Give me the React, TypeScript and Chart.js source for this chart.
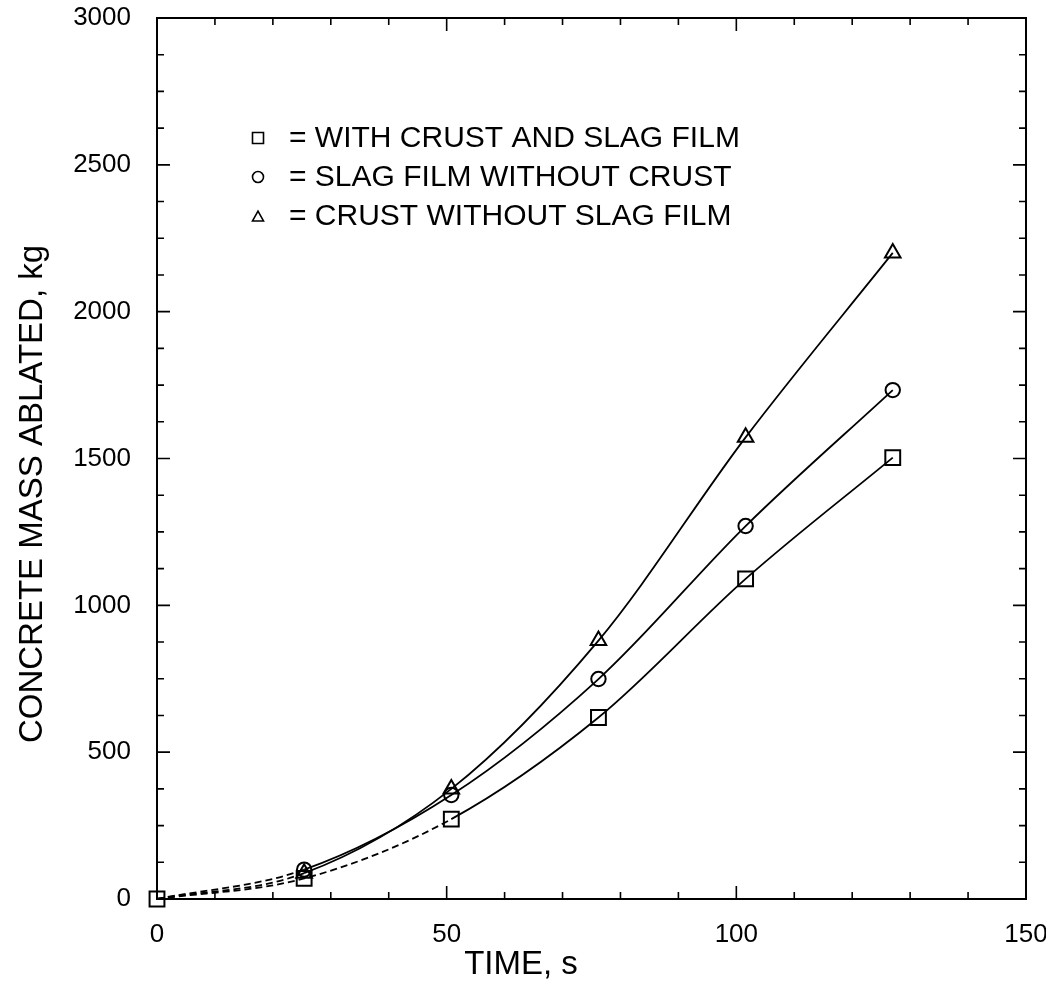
import React, { useEffect, useRef } from "react";
import { Chart, registerables } from "chart.js";

Chart.register(...registerables);

// ---- data ----
const TIME_S = [0, 25.4, 50.8, 76.2, 101.6, 127];
const WITH_CRUST_AND_SLAG = [0, 70, 272, 618, 1090, 1503];
const SLAG_NO_CRUST = [0, 100, 354, 749, 1270, 1733];
const CRUST_NO_SLAG = [0, 88, 375, 880, 1572, 2200];
const SERIES_LABELS = [
  "WITH CRUST AND SLAG FILM",
  "SLAG FILM WITHOUT CRUST",
  "CRUST WITHOUT SLAG FILM",
];
const SERIES_MARKERS = ["rect", "circle", "triangle"];
const X_TICKS = [0, 50, 100, 150];
const Y_TICKS = [0, 500, 1000, 1500, 2000, 2500, 3000];
const X_MINOR_STEP = 10;
const Y_MINOR_STEP = 125;
const X_TITLE = "TIME, s";
const Y_TITLE = "CONCRETE MASS ABLATED, kg";

const FONT = "'Liberation Sans', Arial, Helvetica, sans-serif";

function drawMarker(ctx: CanvasRenderingContext2D, kind: string, x: number, y: number, s: number) {
  ctx.beginPath();
  if (kind === "rect") {
    ctx.rect(x - s / 2, y - s / 2, s, s);
  } else if (kind === "circle") {
    ctx.arc(x, y, s / 2, 0, Math.PI * 2);
  } else {
    const h = s * 0.9;
    ctx.moveTo(x, y - h / 2);
    ctx.lineTo(x + s / 2, y + h / 2);
    ctx.lineTo(x - s / 2, y + h / 2);
    ctx.closePath();
  }
  ctx.stroke();
}

const framePlugin = {
  id: "frameTicks",
  beforeDatasetsDraw(chart: any) {
    const { ctx, chartArea, scales } = chart;
    const { left, right, top, bottom } = chartArea;
    const x = scales.x;
    const y = scales.y;
    ctx.save();
    ctx.strokeStyle = "#000";
    ctx.lineWidth = 2;
    ctx.strokeRect(left, top, right - left, bottom - top);
    ctx.lineWidth = 1.6;
    ctx.beginPath();
    for (let v = x.min; v <= x.max + 1e-6; v += X_MINOR_STEP) {
      const px = x.getPixelForValue(v);
      const len = X_TICKS.includes(v) ? 13 : 7;
      ctx.moveTo(px, bottom);
      ctx.lineTo(px, bottom - len);
      ctx.moveTo(px, top);
      ctx.lineTo(px, top + len);
    }
    for (let v = y.min; v <= y.max + 1e-6; v += Y_MINOR_STEP) {
      const py = y.getPixelForValue(v);
      const len = Y_TICKS.includes(v) ? 13 : 7;
      ctx.moveTo(left, py);
      ctx.lineTo(left + len, py);
      ctx.moveTo(right, py);
      ctx.lineTo(right - len, py);
    }
    ctx.stroke();
    ctx.restore();
  },
};

const textPlugin = {
  id: "textOverlay",
  afterDraw(chart: any) {
    const { ctx, chartArea } = chart;
    const { left } = chartArea;
    ctx.save();
    ctx.fillStyle = "#000";
    ctx.strokeStyle = "#000";
    // legend
    ctx.font = `30px ${FONT}`;
    ctx.textAlign = "left";
    ctx.textBaseline = "alphabetic";
    ctx.lineWidth = 1.6;
    const baseY = 147;
    const gap = 39;
    SERIES_LABELS.forEach((label, i) => {
      const by = baseY + i * gap;
      drawMarker(ctx, SERIES_MARKERS[i], left + 101, by - 9, 11);
      ctx.fillText("= " + label, left + 132, by);
    });
    // axis titles
    ctx.font = `33px ${FONT}`;
    ctx.textAlign = "center";
    ctx.textBaseline = "middle";
    ctx.fillText(X_TITLE, 521, 965);
    ctx.translate(33, 494);
    ctx.rotate(-Math.PI / 2);
    ctx.fillText(Y_TITLE, 0, 0);
    ctx.restore();
  },
};

function zeroPadding(s: any) {
  s.paddingTop = 0;
  s.paddingBottom = 0;
  s.paddingLeft = 0;
  s.paddingRight = 0;
}

export default function App() {
  const canvasRef = useRef<HTMLCanvasElement | null>(null);

  useEffect(() => {
    const canvas = canvasRef.current;
    if (!canvas) return;
    const seriesValues = [WITH_CRUST_AND_SLAG, SLAG_NO_CRUST, CRUST_NO_SLAG];
    const markerSizes = [10.5, 7.2, 9];
    const datasets = seriesValues.map((vals, i) => ({
      label: SERIES_LABELS[i],
      data: TIME_S.map((t, j) => ({ x: t, y: vals[j] })),
      borderColor: "#000",
      borderWidth: 1.8,
      backgroundColor: "rgba(0,0,0,0)",
      pointBackgroundColor: "rgba(0,0,0,0)",
      pointBorderColor: "#000",
      pointBorderWidth: 2,
      pointStyle: SERIES_MARKERS[i],
      pointRadius: (c: any) => (c.dataIndex === 0 && i !== 0 ? 0 : markerSizes[i]),
      cubicInterpolationMode: "monotone" as const,
      fill: false,
      clip: false as const,
      segment: {
        borderDash: (c: any) =>
          c.p0DataIndex < (i === 0 ? 2 : 1) ? [7, 4] : undefined,
      },
    }));

    const chart = new Chart(canvas, {
      type: "line",
      data: { datasets },
      options: {
        animation: false,
        responsive: true,
        maintainAspectRatio: false,
        layout: { padding: { left: 0, right: 20, top: 18, bottom: 0 } },
        plugins: {
          legend: { display: false },
          tooltip: { enabled: false },
          title: { display: false },
        },
        scales: {
          x: {
            type: "linear",
            min: 0,
            max: 150,
            afterBuildTicks: (s: any) => {
              s.ticks = X_TICKS.map((v) => ({ value: v }));
            },
            afterFit: (s: any) => {
              s.height = 98;
              zeroPadding(s);
            },
            ticks: {
              color: "#000",
              font: { size: 26, family: FONT },
              padding: 20,
              maxRotation: 0,
              autoSkip: false,
              callback: (v: any) => String(v),
            },
            grid: { display: false, drawTicks: false },
            border: { display: false },
          },
          y: {
            type: "linear",
            min: 0,
            max: 3000,
            afterBuildTicks: (s: any) => {
              s.ticks = Y_TICKS.map((v) => ({ value: v }));
            },
            afterFit: (s: any) => {
              s.width = 157;
              zeroPadding(s);
            },
            ticks: {
              color: "#000",
              font: { size: 26, family: FONT },
              padding: 26,
              autoSkip: false,
              callback: (v: any) => String(v),
            },
            grid: { display: false, drawTicks: false },
            border: { display: false },
          },
        },
      },
      plugins: [framePlugin, textPlugin],
    });
    return () => chart.destroy();
  }, []);

  return (
    <div
      style={{
        position: "absolute",
        left: 0,
        top: 0,
        width: 1046,
        height: 997,
        background: "#fff",
      }}
    >
      <canvas ref={canvasRef} />
    </div>
  );
}
